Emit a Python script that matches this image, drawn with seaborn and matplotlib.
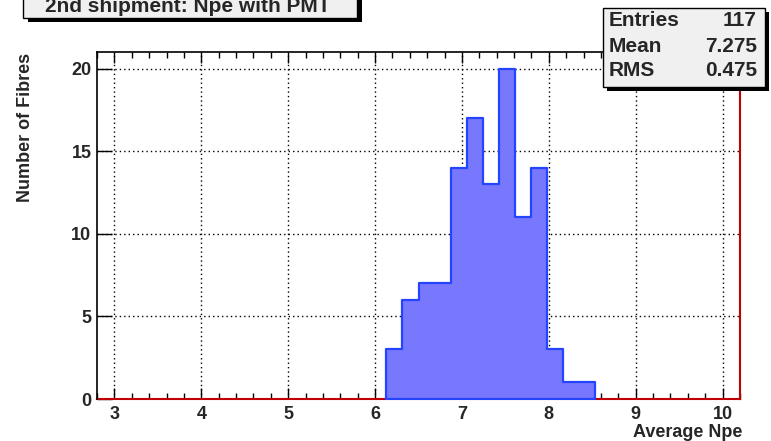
import matplotlib
matplotlib.use("Agg")
import matplotlib.pyplot as plt
from matplotlib.patches import Rectangle
from matplotlib.ticker import MultipleLocator
import numpy as np
import pandas as pd
import seaborn as sns

# ---- data ----
bin_edges = [6.13, 6.315, 6.50, 6.685, 6.87, 7.055, 7.24, 7.425, 7.61, 7.795,
             7.98, 8.165, 8.35, 8.535]
counts = [3, 6, 7, 7, 14, 17, 13, 20, 11, 14, 3, 1, 1]
x_ticks = [3, 4, 5, 6, 7, 8, 9, 10]
y_ticks = [0, 5, 10, 15, 20]
title_text = "2nd shipment: Npe with PMT"
stat_names = ["Entries", "Mean", "RMS"]
stat_values = ["117", "7.275", "0.475"]
x_label = "Average Npe"
y_label = "Number of Fibres"

sns.set_style("white")
plt.rcParams['font.family'] = ['Liberation Sans', 'DejaVu Sans']

W, H = 771, 441
fig = plt.figure(figsize=(W / 100, H / 100), dpi=100)

def fx(px):
    return px / W

def fy(py):
    return 1 - py / H

ax_l, ax_r, ax_t, ax_b = 97, 740, 52, 399
ax = fig.add_axes([fx(ax_l), fy(ax_b), (ax_r - ax_l) / W, (ax_b - ax_t) / H])

centers = [(a + b) / 2 for a, b in zip(bin_edges[:-1], bin_edges[1:])]
df = pd.DataFrame({"npe": centers, "n": counts})
sns.histplot(data=df, x="npe", weights="n", bins=bin_edges, element="step",
             fill=True, color="#7878FF", alpha=1.0, linewidth=1.6,
             edgecolor="#2444FF", ax=ax, zorder=3)
for coll in ax.collections:
    coll.set_facecolor("#7878FF")
    coll.set_edgecolor("#2444FF")

ax.set_xlim(2.8, 10.2)
ax.set_ylim(0, 21)
ax.set_xlabel("")
ax.set_ylabel("")

ax.xaxis.set_major_locator(MultipleLocator(1))
ax.xaxis.set_minor_locator(MultipleLocator(0.2))
ax.set_xticks(x_ticks)
ax.set_yticks(y_ticks)
ax.set_xticklabels([str(t) for t in x_ticks], fontsize=13, fontweight="bold")
ax.set_yticklabels([str(t) for t in y_ticks], fontsize=13, fontweight="bold")

ax.tick_params(axis="x", which="major", direction="in", length=8, width=1,
               top=True, bottom=True, pad=5, color="black")
ax.tick_params(axis="x", which="minor", direction="in", length=4, width=1,
               top=True, bottom=True, color="black")
ax.tick_params(axis="y", which="major", direction="in", length=11, width=1,
               left=True, right=False, pad=4, color="black")
ax.tick_params(axis="y", which="minor", left=False, right=False)

ax.grid(True, which="major", color="black", linestyle=(0, (1, 2.2)),
        linewidth=1.0, zorder=1)
ax.set_axisbelow(True)

for s in ["left", "top"]:
    ax.spines[s].set_color("black")
    ax.spines[s].set_linewidth(1.2)
for s in ["right", "bottom"]:
    ax.spines[s].set_color("#C00000")
    ax.spines[s].set_linewidth(1.5)
ax.spines["bottom"].set_zorder(2)

# axis titles
fig.text(fx(742), fy(437), x_label, ha="right", va="baseline", fontsize=13,
         fontweight="bold")
fig.text(fx(26), fy(53), y_label, ha="center", va="top", rotation=90,
         fontsize=13, fontweight="bold")

# title box with shadow
tb_l, tb_r, tb_t, tb_b = 23, 357, -10, 18
fig.patches.append(Rectangle((fx(tb_l + 5), fy(tb_b + 4)), (tb_r - tb_l) / W,
                             (tb_b - tb_t) / H, transform=fig.transFigure,
                             facecolor="black", edgecolor="none", zorder=5))
fig.patches.append(Rectangle((fx(tb_l), fy(tb_b)), (tb_r - tb_l) / W,
                             (tb_b - tb_t) / H, transform=fig.transFigure,
                             facecolor="#F0F0F0", edgecolor="black",
                             linewidth=1.0, zorder=6))
fig.text(fx((tb_l + tb_r) / 2 - 2), fy(7), title_text, ha="center", va="center",
         fontsize=15, fontweight="bold", zorder=7)

# stats box with shadow
sb_l, sb_r, sb_t, sb_b = 603, 765, 8, 87
fig.patches.append(Rectangle((fx(sb_l + 4), fy(sb_b + 4)), (sb_r - sb_l) / W,
                             (sb_b - sb_t) / H, transform=fig.transFigure,
                             facecolor="black", edgecolor="none", zorder=5))
fig.patches.append(Rectangle((fx(sb_l), fy(sb_b)), (sb_r - sb_l) / W,
                             (sb_b - sb_t) / H, transform=fig.transFigure,
                             facecolor="#F0F0F0", edgecolor="black",
                             linewidth=1.0, zorder=6))
rows_y = [21, 46, 71]
for name, val, yy in zip(stat_names, stat_values, rows_y):
    fig.text(fx(609), fy(yy), name, ha="left", va="center", fontsize=15,
             fontweight="bold", zorder=7)
    fig.text(fx(757), fy(yy), val, ha="right", va="center", fontsize=15,
             fontweight="bold", zorder=7)

fig.savefig("out.png", dpi=100, facecolor="white")
